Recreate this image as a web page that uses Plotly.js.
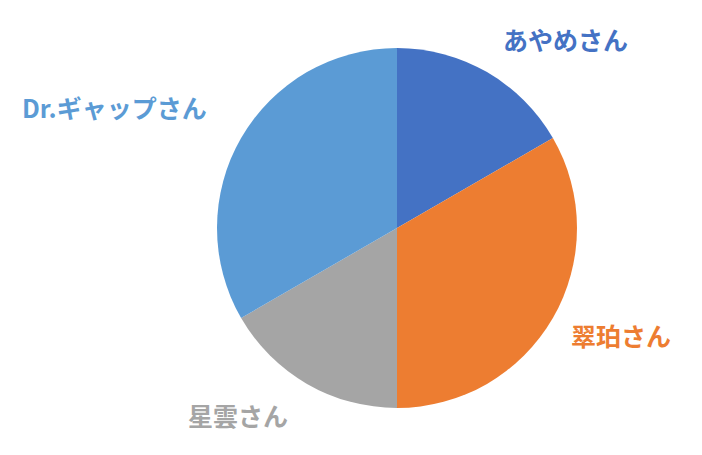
<!DOCTYPE html>
<html>
<head>
<meta charset="utf-8">
<script src="https://cdn.plot.ly/plotly-3.0.1.min.js"></script>
<style>html,body{margin:0;padding:0;background:#fff;}#chart{width:702px;height:455px;}</style>
</head>
<body>
<div id="chart"></div>
<script>
const categories = ["あやめさん", "翠珀さん", "星雲さん", "Dr.ギャップさん"];
const values = [1, 2, 1, 2];
const colors = ["#4472C4", "#ED7D31", "#A5A5A5", "#5B9BD5"];

// label anchor positions in pixels (layout only)
const labelPos = [[565, 39], [621, 335], [238, 415], [114, 107]];

const W = 702, H = 455;
const annotations = categories.map((c, i) => ({
  text: c,
  xref: "paper", yref: "paper",
  x: labelPos[i][0] / W, y: 1 - labelPos[i][1] / H,
  xanchor: "center", yanchor: "middle",
  showarrow: false,
  font: {family: "Noto Sans CJK JP", size: 25, color: colors[i], weight: "bold"}
}));

const data = [{
  type: "pie",
  labels: categories,
  values: values,
  sort: false,
  direction: "clockwise",
  rotation: 0,
  marker: {colors: colors, line: {width: 0}},
  textinfo: "none",
  hoverinfo: "label+value",
  domain: {x: [217 / W, 577 / W], y: [(H - 408) / H, (H - 48) / H]}
}];

const layout = {
  width: W, height: H,
  margin: {l: 0, r: 0, t: 0, b: 0},
  showlegend: false,
  paper_bgcolor: "#fff",
  annotations: annotations
};

Plotly.newPlot("chart", data, layout, {displayModeBar: false, staticPlot: true});
</script>
</body>
</html>
